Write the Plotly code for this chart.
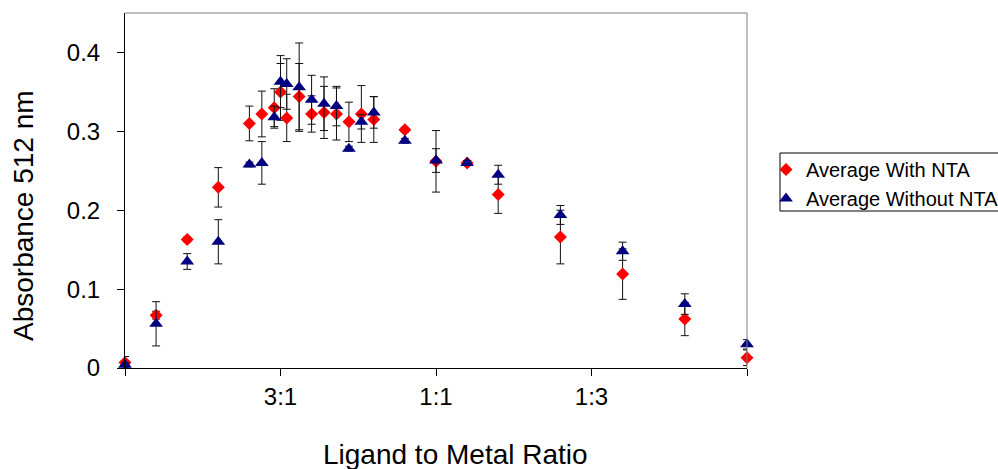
import plotly.graph_objects as go

# Mole fraction of metal (ligand:metal ratio axis)
x_fraction = [0, 0.05, 0.10, 0.15, 0.20, 0.22, 0.24, 0.25, 0.26, 0.28, 0.30, 0.32,
              0.34, 0.36, 0.38, 0.40, 0.45, 0.50, 0.55, 0.60, 0.70, 0.80, 0.90, 1.0]

with_nta = [0.007, 0.067, 0.163, 0.229, 0.310, 0.322, 0.330, 0.350, 0.317, 0.344, 0.322, 0.324,
            0.322, 0.312, 0.322, 0.315, 0.302, 0.262, 0.260, 0.220, 0.166, 0.119, 0.062, 0.013]
with_nta_err = [0.0076, 0.005, 0.003, 0.025, 0.022, 0.029, 0.024, 0.036, 0.030, 0.042, 0.023, 0.033,
                0.033, 0.025, 0.036, 0.029, 0.003, 0.039, 0.003, 0.024, 0.034, 0.032, 0.021, 0.010]

without_nta = [0.004, 0.056, 0.135, 0.160, 0.258, 0.260, 0.318, 0.363, 0.360, 0.356, 0.340, 0.335,
               0.332, 0.278, 0.312, 0.324, 0.288, 0.263, 0.260, 0.245, 0.194, 0.148, 0.081, 0.030]
without_nta_err = [0.003, 0.028, 0.010, 0.028, 0.003, 0.027, 0.014, 0.033, 0.032, 0.056, 0.031, 0.034,
                   0.025, 0.003, 0.009, 0.020, 0.003, 0.015, 0.003, 0.012, 0.012, 0.0115, 0.013, 0.006]

x_tickvals = [0, 0.25, 0.5, 0.75, 1.0]
x_ticktext = ["", "3:1", "1:1", "1:3", ""]
y_tickvals = [0, 0.1, 0.2, 0.3, 0.4]
y_ticktext = ["0", "0.1", "0.2", "0.3", "0.4"]

FONT = "Liberation Sans, Arial, sans-serif"
W, H = 998, 469
L, R, T, B = 125, 747, 13, 368

def px_x(px):
    return (px - L) / (R - L)

def px_y(py):
    return (B - py) / (B - T)

fig = go.Figure()
fig.add_trace(go.Scatter(
    x=x_fraction, y=with_nta, mode="markers", name="Average With NTA",
    marker=dict(symbol="diamond", size=10, color="#FF0000"),
    error_y=dict(type="data", array=with_nta_err, visible=True,
                 color="#111111", thickness=1, width=4),
    cliponaxis=False,
))
fig.add_trace(go.Scatter(
    x=x_fraction, y=without_nta, mode="markers", name="Average Without NTA",
    marker=dict(symbol="triangle-up", size=12, color="#000080"),
    error_y=dict(type="data", array=without_nta_err, visible=True,
                 color="#111111", thickness=1, width=4),
    cliponaxis=False,
))

fig.update_layout(
    width=W, height=H,
    margin=dict(l=L, r=W - R, t=T, b=H - B, autoexpand=False),
    paper_bgcolor="white", plot_bgcolor="white",
    font=dict(family=FONT, color="black"),
    showlegend=True,
    legend=dict(
        x=px_x(766), y=px_y(150), xanchor="left", yanchor="top",
        font=dict(size=20, family=FONT, color="black"),
        bgcolor="rgba(0,0,0,0)", borderwidth=0,
        tracegroupgap=0,
    ),
    xaxis=dict(
        range=[0, 1], tickmode="array", tickvals=x_tickvals, ticktext=x_ticktext,
        showgrid=False, zeroline=False, showline=True, linecolor="black", linewidth=1,
        ticks="outside", ticklen=7, tickcolor="black", tickwidth=1,
        tickfont=dict(size=24, family=FONT, color="black"),
    ),
    yaxis=dict(
        range=[0, 0.45], tickmode="array", tickvals=y_tickvals, ticktext=y_ticktext,
        showgrid=False, zeroline=False, showline=True, linecolor="black", linewidth=1,
        ticks="outside", ticklen=7, tickcolor="black", tickwidth=1,
        tickfont=dict(size=24, family=FONT, color="black"),
        ticklabelstandoff=12,
    ),
    shapes=[
        # grey plot-area border (top and right)
        dict(type="line", xref="paper", yref="paper", x0=0, x1=1, y0=1, y1=1,
             line=dict(color="#808080", width=1)),
        dict(type="line", xref="paper", yref="paper", x0=1, x1=1, y0=0, y1=1,
             line=dict(color="#808080", width=1)),
        # legend frame
        dict(type="rect", xref="paper", yref="paper",
             x0=px_x(780), x1=px_x(1010), y0=px_y(211), y1=px_y(153),
             line=dict(color="black", width=1), fillcolor="rgba(0,0,0,0)"),
    ],
    annotations=[
        dict(text="Ligand to Metal Ratio", xref="paper", yref="paper",
             x=px_x(455), y=px_y(454), xanchor="center", yanchor="middle",
             showarrow=False, font=dict(size=28, family=FONT, color="black")),
        dict(text="Absorbance 512 nm", xref="paper", yref="paper",
             x=px_x(23), y=px_y(216), xanchor="center", yanchor="middle",
             textangle=-90, showarrow=False,
             font=dict(size=28, family=FONT, color="black")),
    ],
)

fig.write_html("out.html", config={"displayModeBar": False},
               post_script="document.body.style.margin='0';")
